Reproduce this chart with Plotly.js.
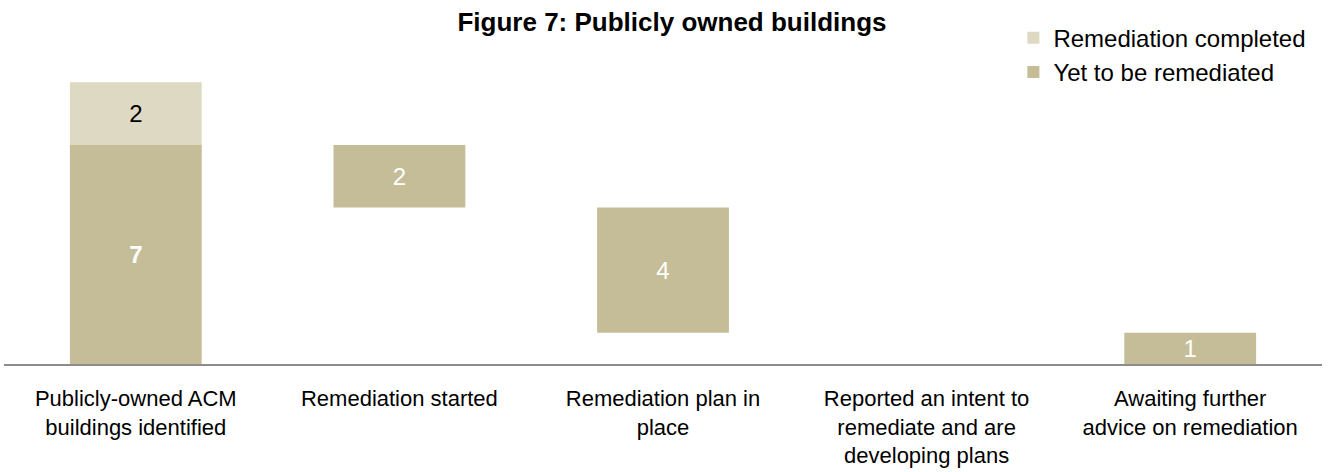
<!DOCTYPE html>
<html>
<head>
<meta charset="utf-8">
<script src="https://cdn.plot.ly/plotly-3.0.1.min.js"></script>
<style>html,body{margin:0;padding:0;background:#fff;}#chart{width:1344px;height:472px;}</style>
</head>
<body>
<div id="chart"></div>
<script>
// ---- data ----
const categories = [
  "Publicly-owned ACM<br>buildings identified",
  "Remediation started",
  "Remediation plan in<br>place",
  "Reported an intent to<br>remediate and are<br>developing plans",
  "Awaiting further<br>advice on remediation"
];
const yetToBeRemediated = [7, 2, 4, 0, 1];
const remediationCompleted = [2, 0, 0, 0, 0];
const seriesNames = ["Remediation completed", "Yet to be remediated"];

// waterfall bases computed from the data
const total = yetToBeRemediated[0];
const yetBase = [];
let remaining = total;
yetToBeRemediated.forEach((v, i) => {
  if (i === 0) { yetBase.push(0); }
  else { remaining -= v; yetBase.push(remaining); }
});
const completedBase = yetToBeRemediated.map((v, i) => i === 0 ? v : yetBase[i] + v);

const FONT = "Liberation Sans, Arial, sans-serif";
const cYet = "#C4BD97";
const cDone = "#DDD9C3";

const yetText = yetToBeRemediated.map((v, i) => v ? (i === 0 ? "<b>" + v + "</b>" : String(v)) : "");
const doneText = remediationCompleted.map(v => v ? String(v) : "");

const traces = [
  {
    type: "bar", name: seriesNames[1], x: categories, y: yetToBeRemediated, base: yetBase,
    marker: {color: cYet, line: {width: 0}}, width: 0.5, offsetgroup: "a",
    text: yetText, textposition: "inside", insidetextanchor: "middle", textangle: 0,
    textfont: {family: FONT, size: 24, color: "#ffffff"}, constraintext: "none",
    hoverinfo: "skip"
  },
  {
    type: "bar", name: seriesNames[0], x: categories, y: remediationCompleted, base: completedBase,
    marker: {color: cDone, line: {width: 0}}, width: 0.5, offsetgroup: "a",
    text: doneText, textposition: "inside", insidetextanchor: "middle", textangle: 0,
    textfont: {family: FONT, size: 24, color: "#000000"}, constraintext: "none",
    hoverinfo: "skip"
  }
];

const layout = {
  width: 1344, height: 472,
  paper_bgcolor: "#ffffff", plot_bgcolor: "#ffffff",
  margin: {l: 4, r: 22, t: 51, b: 108, autoexpand: false},
  barmode: "overlay",
  font: {family: FONT, color: "#000000"},
  title: {
    text: "<b>Figure 7: Publicly owned buildings</b>",
    font: {family: FONT, size: 26, color: "#000000"},
    x: 0.5, xref: "container", xanchor: "center",
    y: 1 - 22 / 472, yref: "container", yanchor: "middle"
  },
  showlegend: true,
  legend: {
    traceorder: "reversed",
    x: 0.754, xref: "container", xanchor: "left",
    y: 0.967, yref: "container", yanchor: "top",
    font: {family: FONT, size: 24, color: "#000000"},
    bgcolor: "rgba(0,0,0,0)", borderwidth: 0,
    itemwidth: 30
  },
  xaxis: {
    type: "category", categoryorder: "array", categoryarray: categories,
    showgrid: false, zeroline: false,
    showline: true, linecolor: "#8c8c8c", linewidth: 1.5,
    ticks: "", tickfont: {family: FONT, size: 22, color: "#000000"},
    tickangle: 0, automargin: false, ticklabelstandoff: 14
  },
  yaxis: {
    range: [0, 10], visible: false, showgrid: false, zeroline: false, fixedrange: true
  }
};

Plotly.newPlot("chart", traces, layout, {displayModeBar: false, staticPlot: true});
</script>
</body>
</html>
